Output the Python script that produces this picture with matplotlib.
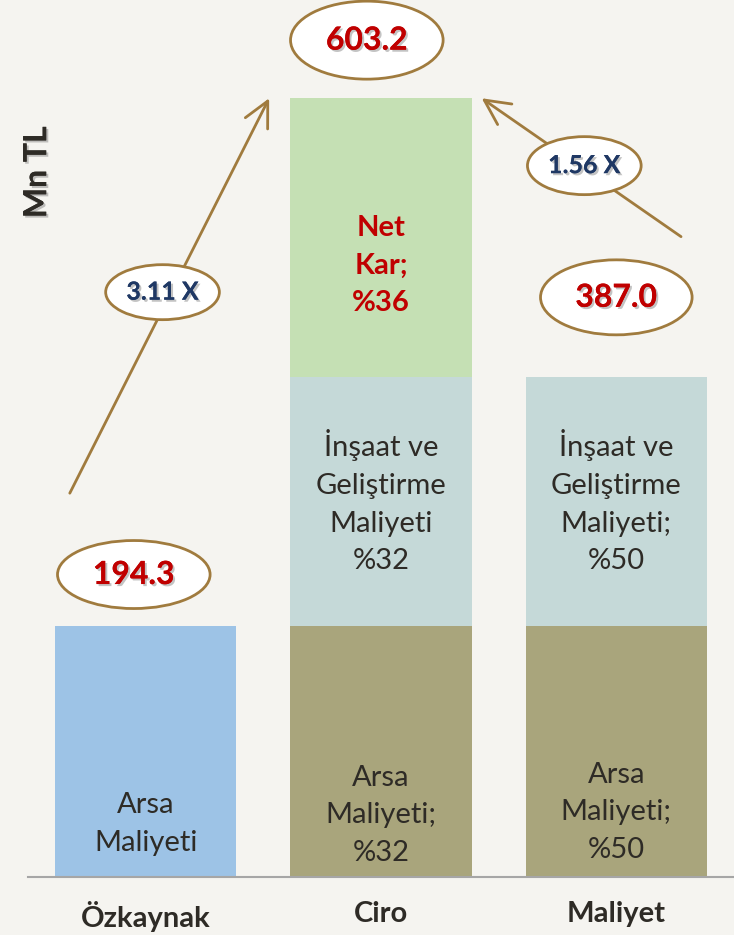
import matplotlib
matplotlib.use("Agg")
import matplotlib.pyplot as plt
import matplotlib.patheffects as pe
from matplotlib.patches import Ellipse

plt.rcParams['font.family'] = ['Lato', 'DejaVu Sans']

# data (Mn TL)
categories = ['Özkaynak', 'Ciro', 'Maliyet']
arsa = [194.3, 194.3, 194.3]
insaat = [0, 192.7, 192.7]
net_kar = [0, 216.2, 0]
totals = [194.3, 603.2, 387.0]
total_labels = ['194.3', '603.2', '387.0']
ratio_labels = ['3.11 X', '1.56 X']
arsa_labels = ['Arsa\nMaliyeti', 'Arsa\nMaliyeti;\n%32', 'Arsa\nMaliyeti;\n%50']
insaat_labels = ['', 'İnşaat ve\nGeliştirme\nMaliyeti\n%32', 'İnşaat ve\nGeliştirme\nMaliyeti;\n%50']
kar_label = 'Net\nKar;\n%36'

bg = '#F5F4F0'
brown = '#A07B3E'
red = '#C00000'
navy = '#1F3864'
dark = '#2E2B26'

fig = plt.figure(figsize=(7.34, 9.35), dpi=100, facecolor=bg)
ax = fig.add_axes([0.038, 0.062, 0.962, 0.938])
ax.set_facecolor(bg)

x = range(len(categories))
w = 0.77
arsa_colors = ['#9DC3E6', '#A9A57C', '#A9A57C']
ax.bar(x, arsa, w, color=arsa_colors, zorder=2)
ax.bar(x, insaat, w, bottom=arsa, color='#C5D9D8', zorder=2)
bottom2 = [a + b for a, b in zip(arsa, insaat)]
ax.bar(x, net_kar, w, bottom=bottom2, color='#C5E0B4', zorder=2)

ax.set_xlim(-0.5, 2.5)
ax.set_ylim(0, 679.3)
for s in ['top', 'right', 'left']:
    ax.spines[s].set_visible(False)
ax.spines['bottom'].set_color('#A6A6A6')
ax.spines['bottom'].set_linewidth(1.5)
ax.set_yticks([])
ax.set_xticks(list(x))
ax.set_xticklabels(categories, fontsize=21, fontweight='bold', color=dark)
ax.tick_params(axis='x', length=0, pad=17)

# labels inside segments
arsa_y = [41, 48, 50]
for i in x:
    ax.text(i, arsa_y[i], arsa_labels[i], ha='center', va='center', fontsize=21,
            color=dark, linespacing=1.55, zorder=3)
    if insaat[i]:
        ax.text(i, arsa[i] + insaat[i] / 2, insaat_labels[i], ha='center', va='center',
                fontsize=21, color=dark, linespacing=1.55, zorder=3)
ax.text(1, bottom2[1] + net_kar[1] * 0.4, kar_label, ha='center', va='center',
        fontsize=21, fontweight='bold', color=red, linespacing=1.55, zorder=3)

# arrows from smaller bars to Ciro
ax.annotate('', xy=(0.525, totals[1]), xytext=(-0.322, totals[0] + 103),
            arrowprops=dict(arrowstyle='->,head_length=0.9,head_width=0.45', lw=2,
                            color=brown, mutation_scale=20, shrinkA=0, shrinkB=0), zorder=4)
ax.annotate('', xy=(1.428, totals[1]), xytext=(2.275, totals[2] + 109),
            arrowprops=dict(arrowstyle='->,head_length=0.9,head_width=0.45', lw=2,
                            color=brown, mutation_scale=20, shrinkA=0, shrinkB=0), zorder=4)

px_x = 1 / 236.0
px_y = 1 / 1.291


def oval(cx, cy, wpx, hpx, label, color, size):
    e = Ellipse((cx, cy), wpx * px_x, hpx * px_y, facecolor='white', edgecolor=brown,
                lw=2, zorder=5)
    ax.add_patch(e)
    t = ax.text(cx, cy, label, ha='center', va='center', fontsize=size, fontweight='bold',
                color=color, zorder=6)
    t.set_path_effects([pe.withSimplePatchShadow(offset=(1.5, -1.5), shadow_rgbFace='#888888',
                                                  alpha=0.5), pe.Normal()])


oval(-0.05, totals[0] + 40, 153, 68, total_labels[0], red, 23)
oval(0.94, totals[1] + 45, 153, 78, total_labels[1], red, 23)
oval(2.0, totals[2] + 62, 152, 75, total_labels[2], red, 23)
oval(0.072, 453, 114, 55, ratio_labels[0], navy, 18)
oval(1.864, 551, 114, 58, ratio_labels[1], navy, 18)

mn = fig.text(0.05, 0.816, 'Mn TL', rotation=90, ha='center', va='center', fontsize=23,
              fontweight='bold', color=dark)
mn.set_path_effects([pe.withSimplePatchShadow(offset=(1.5, -1.5), shadow_rgbFace='#888888',
                                               alpha=0.5), pe.Normal()])

fig.savefig('out.png', dpi=100, facecolor=bg)
